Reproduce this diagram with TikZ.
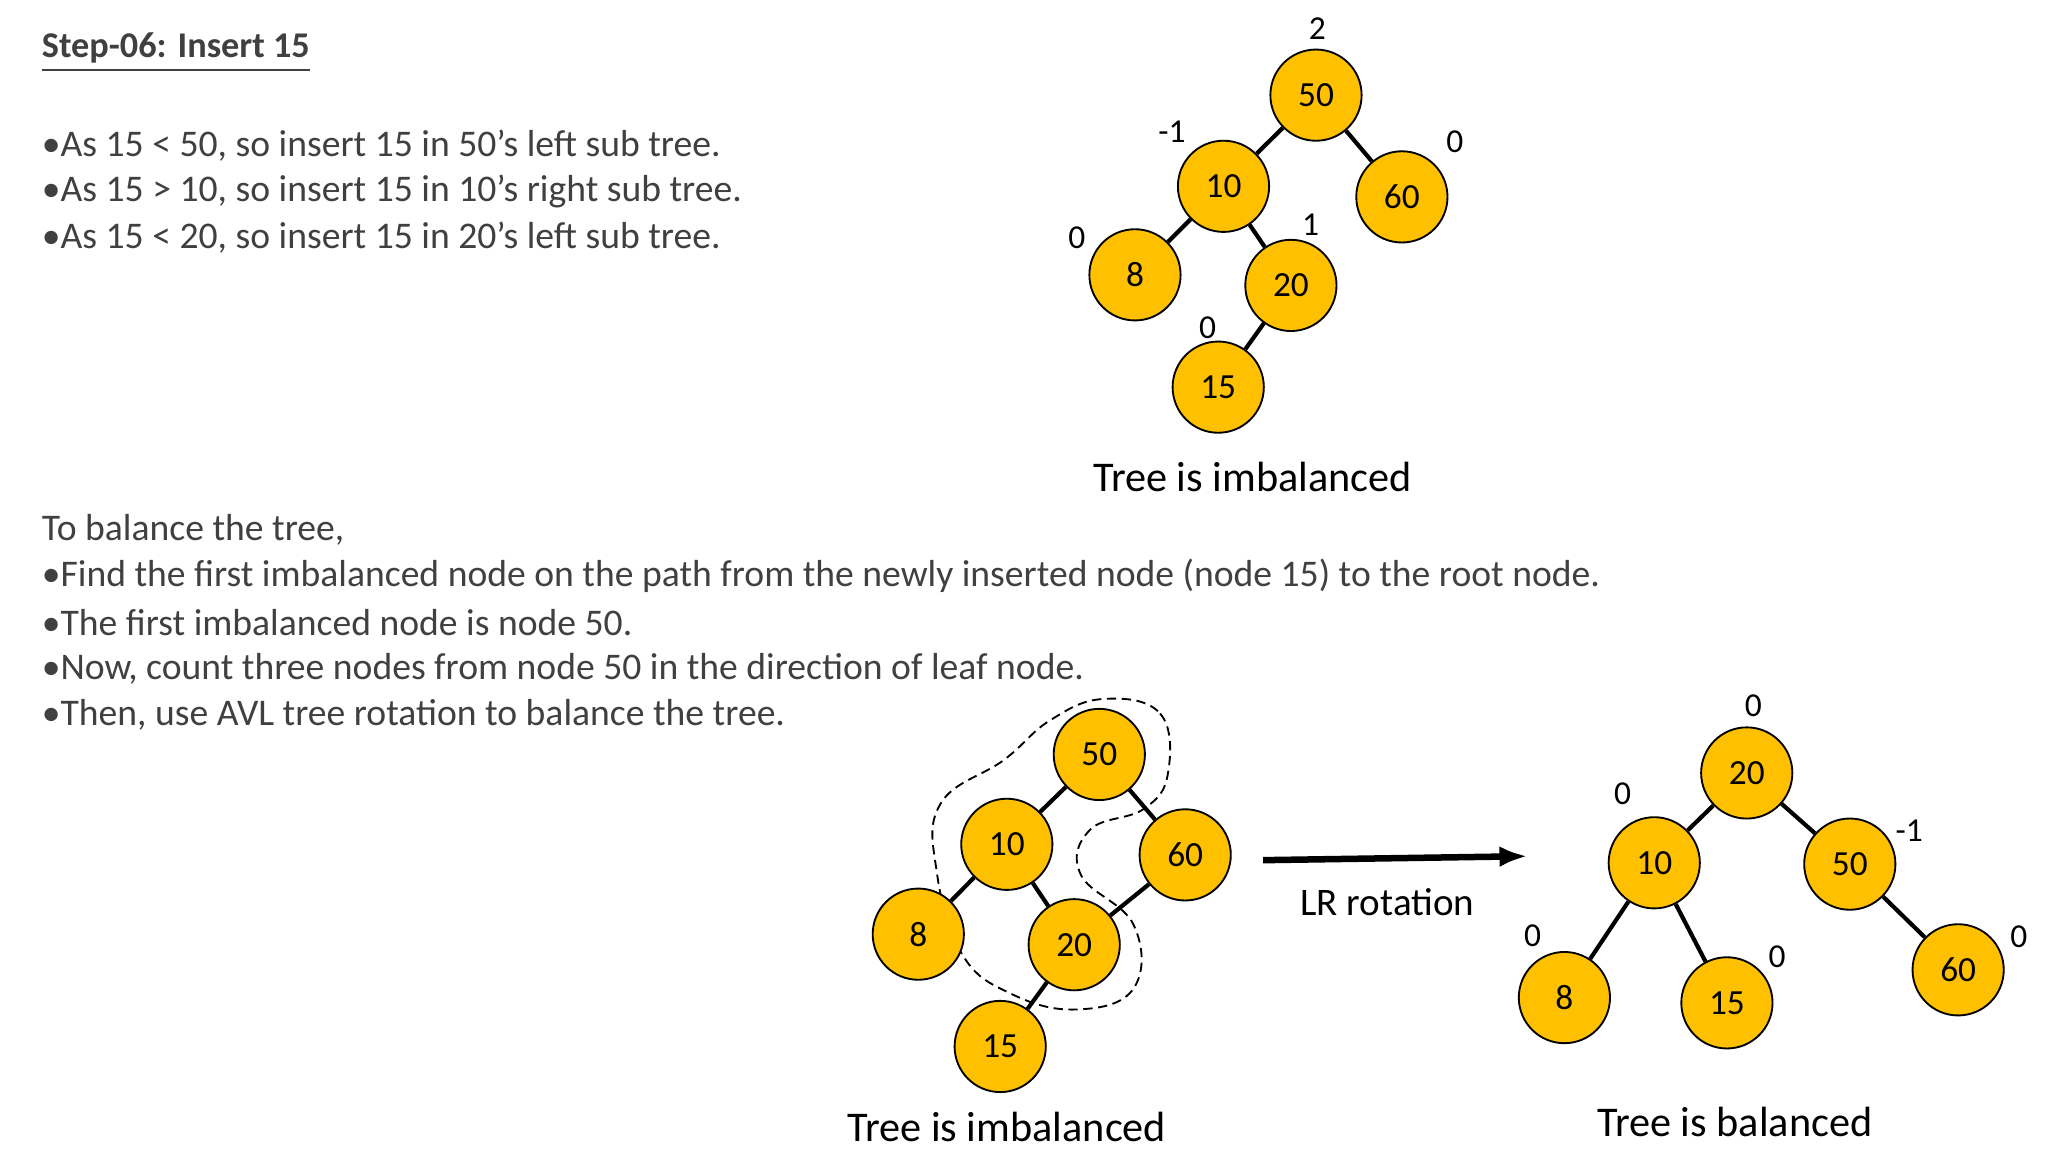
\documentclass[tikz,border=0pt]{standalone}
\usepackage{fontspec}
\setmainfont{Carlito}
\usetikzlibrary{arrows.meta}
\definecolor{gold}{HTML}{FFC000}
\definecolor{txt}{HTML}{404040}
\begin{document}
\begin{tikzpicture}[x=0.01cm,y=-0.01cm,
 nd/.style={circle,draw=black,thin,fill=gold,minimum size=0.69cm,inner sep=0pt,font=\fontsize{7.6}{9}\selectfont},
 ed/.style={line width=0.9pt},
 bf/.style={font=\fontsize{7.2}{9}\selectfont,inner sep=0pt},
 body/.style={anchor=west,text=txt,font=\fontsize{8.1}{9}\selectfont,inner sep=0pt},
 captxt/.style={font=\fontsize{9.1}{10}\selectfont,inner sep=0pt}]
\useasboundingbox (0,0) rectangle (1550,872);
\node[body,font=\bfseries\fontsize{7.8}{9}\selectfont] (t0) at (31,40) {\underline{Step-06: Insert 15}};
\node[body] (t1) at (31,110) {•As 15 < 50, so insert 15 in 50’s left sub tree.};
\node[body] (t2) at (31,145) {•As 15 > 10, so insert 15 in 10’s right sub tree.};
\node[body] (t3) at (31,180) {•As 15 < 20, so insert 15 in 20’s left sub tree.};
\node[body] (t4) at (31,401) {To balance the tree,};
\node[body] (t5) at (31,436) {•Find the first imbalanced node on the path from the newly inserted node (node 15) to the root node.};
\node[body] (t6) at (31,471) {•The first imbalanced node is node 50.};
\node[body] (t7) at (31,506) {•Now, count three nodes from node 50 in the direction of leaf node.};
\node[body] (t8) at (31,541) {•Then, use AVL tree rotation to balance the tree.};
% top tree
\node[nd] (a50) at (996,72) {50};
\node[nd] (a10) at (926,141) {10};
\node[nd] (a60) at (1061,149) {60};
\node[nd] (a8) at (859,208) {8};
\node[nd] (a20) at (977,216) {20};
\node[nd] (a15) at (922,293) {15};
\draw[ed] (a50)--(a10); \draw[ed] (a50)--(a60); \draw[ed] (a10)--(a8); \draw[ed] (a10)--(a20); \draw[ed] (a20)--(a15);
\node[bf] (b1) at (997,22) {2};
\node[bf] (b2) at (887,100) {-1};
\node[bf] (b3) at (1101,107) {0};
\node[bf] (b4) at (815,180) {0};
\node[bf] (b5) at (992,170) {1};
\node[bf] (b6) at (914,248) {0};
\node[captxt] (c1) at (948,361) {Tree is imbalanced};
% bottom left tree
\draw[dash pattern=on 2pt off 1.2pt,thin] plot[smooth cycle,tension=0.7] coordinates {(835,529) (878,540) (884,585) (866,612) (825,628) (818,662) (858,700) (858,748) (815,764) (765,752) (728,722) (709,660) (712,608) (760,575) (795,545)};
\node[nd] (d50) at (832,571) {50};
\node[nd] (d10) at (762,639) {10};
\node[nd] (d60) at (897,647) {60};
\node[nd] (d8) at (695,707) {8};
\node[nd] (d20) at (813,715) {20};
\node[nd] (d15) at (757,792) {15};
\draw[ed] (d50)--(d10); \draw[ed] (d50)--(d60); \draw[ed] (d10)--(d8); \draw[ed] (d10)--(d20); \draw[ed] (d20)--(d15);
\draw[ed] (d60)--(d20);
\node[captxt] (c2) at (762,853) {Tree is imbalanced};
% arrow
\coordinate (r1) at (956,651); \coordinate (r2) at (1156,648);
\draw[line width=1.4pt,-{Latex[length=6pt]}] (r1)--(r2);
\node[captxt,font=\fontsize{8.4}{10}\selectfont] (lr) at (1050,683) {LR rotation};
% right tree
\node[nd] (e20) at (1322,585) {20};
\node[nd] (e10) at (1252,653) {10};
\node[nd] (e50) at (1400,654) {50};
\node[nd] (e8) at (1184,755) {8};
\node[nd] (e15) at (1307,759) {15};
\node[nd] (e60) at (1482,734) {60};
\draw[ed] (e20)--(e10); \draw[ed] (e20)--(e50); \draw[ed] (e10)--(e8); \draw[ed] (e10)--(e15); \draw[ed] (e50)--(e60);
\node[bf] (f1) at (1327,534) {0};
\node[bf] (f2) at (1228,601) {0};
\node[bf] (f3) at (1445,629) {-1};
\node[bf] (f4) at (1160,708) {0};
\node[bf] (f5) at (1345,724) {0};
\node[bf] (f6) at (1528,709) {0};
\node[captxt] (c3) at (1313,849) {Tree is balanced};
\end{tikzpicture}
\end{document}
